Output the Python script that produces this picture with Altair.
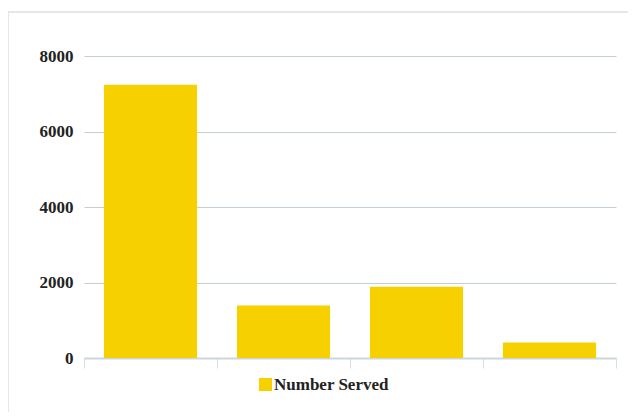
import altair as alt
import pandas as pd

categories = ["Group 1", "Group 2", "Group 3", "Group 4"]
values = [7240, 1390, 1890, 410]
series = ["Number Served"] * 4
y_ticks = [0, 2000, 4000, 6000, 8000]

df = pd.DataFrame({"category": categories, "value": values, "series": series})

FONT = "Liberation Serif"

bars = alt.Chart(df).mark_bar(width={"band": 0.7}, color="#f7d000").encode(
    x=alt.X("category:N", sort=categories,
            scale=alt.Scale(paddingInner=0, paddingOuter=0),
            axis=alt.Axis(title=None, labels=False, domain=True, domainColor="#ccd6db",
                          domainWidth=2, ticks=True, tickBand="extent", tickColor="#d8dee3",
                          tickSize=10, tickWidth=1, grid=False)),
    y=alt.Y("value:Q", scale=alt.Scale(domain=[0, 8000], nice=False),
            axis=alt.Axis(title=None, values=y_ticks, domain=False, ticks=False,
                          grid=True, gridColor="#c3cfd6", gridWidth=1,
                          labelFont=FONT, labelFontWeight="bold", labelFontSize=17,
                          labelColor="#222222", labelPadding=11, format="d")),
    color=alt.Color("series:N", scale=alt.Scale(range=["#f7d000"]),
                    legend=alt.Legend(title=None, orient="none", legendX=173, legendY=320,
                                      symbolType="square", symbolSize=169,
                                      symbolStrokeWidth=0, symbolFillColor="#f7d000",
                                      labelFont=FONT, labelFontWeight="bold",
                                      labelFontSize=17, labelColor="#222222",
                                      labelOffset=0)),
)

frame_left = alt.Chart(df).mark_rule(color="#e6e6e6", strokeWidth=1.5).encode(
    x=alt.value(-76), y=alt.value(-44), y2=alt.value(420))
frame_top = alt.Chart(df).mark_rule(color="#e6e6e6", strokeWidth=1.5).encode(
    x=alt.value(-76), x2=alt.value(600), y=alt.value(-44))

chart = alt.layer(frame_left, frame_top, bars).properties(
    width=532, height=302,
    padding={"left": 76, "top": 48, "right": 12, "bottom": 54},
    autosize=alt.AutoSizeParams(type="none"),
).configure_view(stroke=None)

chart.save("out.html", embed_options={"renderer": "svg", "actions": False})
